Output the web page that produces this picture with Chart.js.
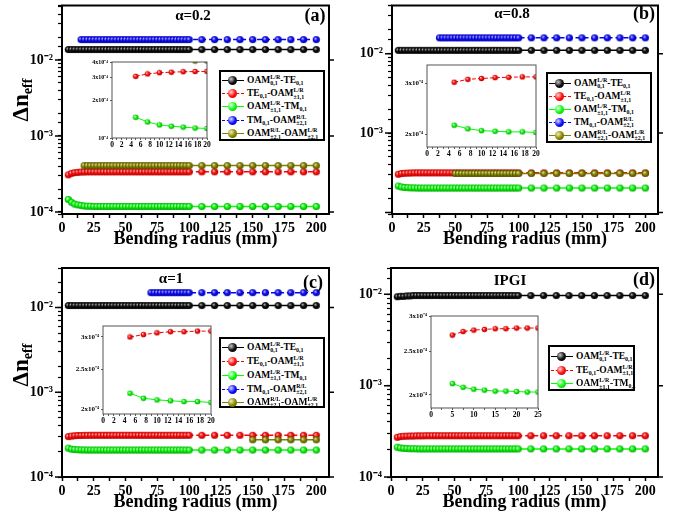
<!DOCTYPE html>
<html>
<head>
<meta charset="utf-8">
<script src="https://cdn.jsdelivr.net/npm/chart.js@4.4.0/dist/chart.umd.min.js"></script>
<style>
  body { margin: 0; background: #fff; }
  #wrap { position: relative; width: 674px; height: 518px; overflow: hidden;
          font-family: "Liberation Serif", "Times New Roman", serif; font-weight: bold; color: #000; }
  #wrap canvas { position: absolute; }
  .lbl { position: absolute; transform: translate(-50%, -50%); white-space: nowrap; }
  .ytitle { position: absolute; transform: translate(-50%, -50%) rotate(-90deg); font-size: 23px; white-space: nowrap; }
  .ytitle sub { font-size: 0.62em; vertical-align: -0.3em; }
  .legend { position: absolute; background: #fff; border: 2px solid #000; box-sizing: border-box; font-size: 9.5px; }
  .row { position: absolute; left: 0; height: 13px; display: flex; align-items: center; white-space: nowrap; }
  .sym { position: relative; width: 22px; height: 13px; margin: 0 3px 0 1px; flex: none; }
  .sym .ln { position: absolute; left: 0; right: 0; top: 6px; }
  .sym .ball { position: absolute; left: 6px; top: 2px; width: 9px; height: 9px; border-radius: 50%; }
  .sb { font-size: 6px; vertical-align: -2px; }
  .ss { display: inline-flex; flex-direction: column; font-size: 6px; line-height: 6.5px; vertical-align: middle; }
</style>
</head>
<body>
<div id="wrap"></div>
<script>
// bending radius (mm): dense 5..100, then every 10 mm
const radius = [
  5, 7.5, 10, 12.5, 15, 17.5, 20, 22.5, 25, 27.5,
  30, 32.5, 35, 37.5, 40, 42.5, 45, 47.5, 50, 52.5,
  55, 57.5, 60, 62.5, 65, 67.5, 70, 72.5, 75, 77.5,
  80, 82.5, 85, 87.5, 90, 92.5, 95, 97.5, 100,
  110, 120, 130, 140, 150, 160, 170, 180, 190, 200
];

// all series below are in units of 1e-4
const UNIT = 1e-4;

// (a) alpha = 0.2
const aBlack = [
  137, 137, 137, 137, 137, 137, 137, 137, 137, 137,
  137, 137, 137, 137, 137, 137, 137, 137, 137, 137,
  137, 137, 137, 137, 137, 137, 137, 137, 137, 137,
  137, 137, 137, 137, 137, 137, 137, 137, 137,
  137, 137, 137, 137, 137, 137, 137, 137, 137, 137
];
const aRed = [
  3.08, 3.22, 3.29, 3.32, 3.35, 3.36, 3.37, 3.37, 3.37, 3.37,
  3.37, 3.37, 3.37, 3.37, 3.37, 3.37, 3.37, 3.37, 3.37, 3.37,
  3.37, 3.37, 3.37, 3.37, 3.37, 3.37, 3.37, 3.37, 3.37, 3.37,
  3.37, 3.37, 3.37, 3.37, 3.37, 3.37, 3.37, 3.37, 3.37,
  3.37, 3.37, 3.37, 3.37, 3.37, 3.37, 3.37, 3.37, 3.37, 3.37
];
const aGreen = [
  1.46, 1.34, 1.27, 1.24, 1.22, 1.20, 1.19, 1.19, 1.18, 1.18,
  1.18, 1.18, 1.18, 1.18, 1.18, 1.18, 1.18, 1.18, 1.18, 1.18,
  1.18, 1.18, 1.18, 1.18, 1.18, 1.18, 1.18, 1.18, 1.18, 1.18,
  1.18, 1.18, 1.18, 1.18, 1.18, 1.18, 1.18, 1.18, 1.18,
  1.18, 1.18, 1.18, 1.18, 1.18, 1.18, 1.18, 1.18, 1.18, 1.18
];
const aBlue = [
  null, null, null, null, 185, 185, 185, 185, 185, 185,
  185, 185, 185, 185, 185, 185, 185, 185, 185, 185,
  185, 185, 185, 185, 185, 185, 185, 185, 185, 185,
  185, 185, 185, 185, 185, 185, 185, 185, 185,
  185, 185, 185, 185, 185, 185, 185, 185, 185, 185
];
const aOlive = [
  null, null, null, null, null, 4.07, 4.07, 4.07, 4.07, 4.07,
  4.07, 4.07, 4.07, 4.07, 4.07, 4.07, 4.07, 4.07, 4.07, 4.07,
  4.07, 4.07, 4.07, 4.07, 4.07, 4.07, 4.07, 4.07, 4.07, 4.07,
  4.07, 4.07, 4.07, 4.07, 4.07, 4.07, 4.07, 4.07, 4.07,
  4.07, 4.07, 4.07, 4.07, 4.07, 4.07, 4.07, 4.07, 4.07, 4.07
];

// (b) alpha = 0.8
const bBlack = [
  110, 110, 110, 110, 110, 110, 110, 110, 110, 110,
  110, 110, 110, 110, 110, 110, 110, 110, 110, 110,
  110, 110, 110, 110, 110, 110, 110, 110, 110, 110,
  110, 110, 110, 110, 110, 110, 110, 110, 110,
  110, 110, 110, 110, 110, 110, 110, 110, 110, 110
];
const bRed = [
  3.02, 3.09, 3.11, 3.13, 3.14, 3.15, 3.15, 3.15, 3.15, 3.15,
  3.15, 3.15, 3.15, 3.15, 3.15, 3.15, 3.15, 3.15, 3.15, 3.15,
  3.15, 3.15, 3.15, 3.15, 3.15, 3.15, 3.15, 3.15, 3.15, 3.15,
  3.15, 3.15, 3.15, 3.15, 3.15, 3.15, 3.15, 3.15, 3.15,
  3.15, 3.15, 3.15, 3.15, 3.15, 3.15, 3.15, 3.15, 3.15, 3.15
];
const bGreen = [
  2.15, 2.09, 2.06, 2.05, 2.04, 2.04, 2.03, 2.03, 2.03, 2.03,
  2.03, 2.03, 2.03, 2.03, 2.03, 2.03, 2.03, 2.03, 2.03, 2.03,
  2.03, 2.03, 2.03, 2.03, 2.03, 2.03, 2.03, 2.03, 2.03, 2.03,
  2.03, 2.03, 2.03, 2.03, 2.03, 2.03, 2.03, 2.03, 2.03,
  2.03, 2.03, 2.03, 2.03, 2.03, 2.03, 2.03, 2.03, 2.03, 2.03
];
const bBlue = [
  null, null, null, null, null, null, null, null, null, null,
  null, null, null, 158, 158, 158, 158, 158, 158, 158,
  158, 158, 158, 158, 158, 158, 158, 158, 158, 158,
  158, 158, 158, 158, 158, 158, 158, 158, 158,
  158, 158, 158, 158, 158, 158, 158, 158, 158, 158
];
const bOlive = [
  null, null, null, null, null, null, null, null, null, null,
  null, null, null, null, null, null, null, null, 3.10, 3.10,
  3.10, 3.10, 3.10, 3.10, 3.10, 3.10, 3.10, 3.10, 3.10, 3.10,
  3.10, 3.10, 3.10, 3.10, 3.10, 3.10, 3.10, 3.10, 3.10,
  3.10, 3.10, 3.10, 3.10, 3.10, 3.10, 3.10, 3.10, 3.10, 3.10
];

// (c) alpha = 1
const cBlack = [
  105.6, 105.6, 105.6, 105.6, 105.6, 105.6, 105.6, 105.6, 105.6, 105.6,
  105.6, 105.6, 105.6, 105.6, 105.6, 105.6, 105.6, 105.6, 105.6, 105.6,
  105.6, 105.6, 105.6, 105.6, 105.6, 105.6, 105.6, 105.6, 105.6, 105.6,
  105.6, 105.6, 105.6, 105.6, 105.6, 105.6, 105.6, 105.6, 105.6,
  105.6, 105.6, 105.6, 105.6, 105.6, 105.6, 105.6, 105.6, 105.6, 105.6
];
const cRed = [
  3.00, 3.04, 3.07, 3.09, 3.09, 3.10, 3.10, 3.11, 3.11, 3.11,
  3.11, 3.11, 3.11, 3.11, 3.11, 3.11, 3.11, 3.11, 3.11, 3.11,
  3.11, 3.11, 3.11, 3.11, 3.11, 3.11, 3.11, 3.11, 3.11, 3.11,
  3.11, 3.11, 3.11, 3.11, 3.11, 3.11, 3.11, 3.11, 3.11,
  3.11, 3.11, 3.11, 3.11, 3.11, 3.11, 3.11, 3.11, 3.11, 3.11
];
const cGreen = [
  2.19, 2.13, 2.11, 2.10, 2.09, 2.09, 2.08, 2.08, 2.08, 2.08,
  2.08, 2.08, 2.08, 2.08, 2.08, 2.08, 2.08, 2.08, 2.08, 2.08,
  2.08, 2.08, 2.08, 2.08, 2.08, 2.08, 2.08, 2.08, 2.08, 2.08,
  2.08, 2.08, 2.08, 2.08, 2.08, 2.08, 2.08, 2.08, 2.08,
  2.08, 2.08, 2.08, 2.08, 2.08, 2.08, 2.08, 2.08, 2.08, 2.08
];
const cBlue = [
  null, null, null, null, null, null, null, null, null, null,
  null, null, null, null, null, null, null, null, null, null,
  null, null, null, null, null, null, 150, 150, 150, 150,
  150, 150, 150, 150, 150, 150, 150, 150, 150,
  150, 150, 150, 150, 150, 150, 150, 150, 150, 150
];
const cOlive = [
  null, null, null, null, null, null, null, null, null, null,
  null, null, null, null, null, null, null, null, null, null,
  null, null, null, null, null, null, null, null, null, null,
  null, null, null, null, null, null, null, null, null,
  null, null, null, null, 2.75, 2.75, 2.75, 2.75, 2.75, 2.75
];

// (d) IPGI
const dBlack = [
  94, 95, 95, 96, 96, 97, 97, 97, 97, 97,
  97, 97, 97, 97, 97, 97, 97, 97, 97, 97,
  97, 97, 97, 97, 97, 97, 97, 97, 97, 97,
  97, 97, 97, 97, 97, 97, 97, 97, 97,
  97, 97, 97, 97, 97, 97, 97, 97, 97, 97
];
const dRed = [
  2.72, 2.77, 2.79, 2.80, 2.81, 2.81, 2.82, 2.82, 2.82, 2.83,
  2.83, 2.83, 2.83, 2.83, 2.83, 2.83, 2.83, 2.83, 2.83, 2.83,
  2.83, 2.83, 2.83, 2.83, 2.83, 2.83, 2.83, 2.83, 2.83, 2.83,
  2.83, 2.83, 2.83, 2.83, 2.83, 2.83, 2.83, 2.83, 2.83,
  2.83, 2.83, 2.83, 2.83, 2.83, 2.83, 2.83, 2.83, 2.83, 2.83
];
const dGreen = [
  2.12, 2.08, 2.06, 2.05, 2.04, 2.04, 2.035, 2.03, 2.03, 2.03,
  2.03, 2.03, 2.03, 2.03, 2.03, 2.03, 2.03, 2.03, 2.03, 2.03,
  2.03, 2.03, 2.03, 2.03, 2.03, 2.03, 2.03, 2.03, 2.03, 2.03,
  2.03, 2.03, 2.03, 2.03, 2.03, 2.03, 2.03, 2.03, 2.03,
  2.03, 2.03, 2.03, 2.03, 2.03, 2.03, 2.03, 2.03, 2.03, 2.03
];

// tick labels
const decadeVals = [1e-4, 1e-3, 1e-2];
const decadeLabels = ['10⁻⁴', '10⁻³', '10⁻²'];
const insetTicksA = [1e-4, 2e-4, 3e-4, 4e-4];
const insetLabelsA = ['10⁻⁴', '2x10⁻⁴', '3x10⁻⁴', '4x10⁻⁴'];
const insetTicksB = [2e-4, 3e-4];
const insetLabelsB = ['2x10⁻⁴', '3x10⁻⁴'];
const insetTicksCD = [2e-4, 2.5e-4, 3e-4];
const insetLabelsCD = ['2x10⁻⁴', '2.5x10⁻⁴', '3x10⁻⁴'];

// series styles: black, red, green, blue, olive
const colors = ['#000000', '#ff0000', '#00ff00', '#0000ff', '#808000'];
const shades = [
  ['#c8c8c8', '#101010', '#000000'],
  ['#ffd8d8', '#ff1010', '#b00000'],
  ['#e8ffe8', '#10ff10', '#00a000'],
  ['#d8d8ff', '#1010ff', '#0000a0'],
  ['#f0f0b8', '#8a8a00', '#4a4a00']
];
const dashed = [false, true, false, true, false];

const sb = s => `<span class="sb">${s}</span>`;
const ss = (sup, sub) => `<span class="ss"><span>${sup}</span><span>${sub}</span></span>`;
const seriesNames = [
  `OAM${ss('L/R', '0,1')}-TE${sb('0,1')}`,
  `TE${sb('0,1')}-OAM${ss('L/R', '±1,1')}`,
  `OAM${ss('L/R', '±1,1')}-TM${sb('0,1')}`,
  `TM${sb('0,1')}-OAM${ss('R/L', '±2,1')}`,
  `OAM${ss('R/L', '±2,1')}-OAM${ss('L/R', '±2,1')}`
];

const FONT = '"Liberation Serif", "Times New Roman", serif';
const wrap = document.getElementById('wrap');

function ball(i, r) {
  const s = Math.ceil(2 * r) + 1;
  const c = document.createElement('canvas');
  c.width = c.height = s;
  const g = c.getContext('2d');
  const m = s / 2;
  const gr = g.createRadialGradient(m - r * 0.35, m - r * 0.35, 0, m, m, r);
  gr.addColorStop(0, shades[i][0]);
  gr.addColorStop(0.5, shades[i][1]);
  gr.addColorStop(1, shades[i][2]);
  g.fillStyle = gr;
  g.beginPath();
  g.arc(m, m, r, 0, Math.PI * 2);
  g.fill();
  return c;
}
const bigBalls = colors.map((c, i) => ball(i, 3.6));
const smallBalls = colors.map((c, i) => ball(i, 2.8));

// frame round the plot area, plus decade ticks on both sides
const frame = {
  id: 'frame',
  beforeDraw(chart, args, o) {
    if (!o.bg) return;
    const { ctx, chartArea: a } = chart;
    ctx.save();
    ctx.fillStyle = o.bg;
    ctx.fillRect(a.left, a.top, a.right - a.left, a.bottom - a.top);
    ctx.restore();
  },
  afterDraw(chart, args, o) {
    const { ctx, chartArea: a } = chart;
    ctx.save();
    ctx.strokeStyle = o.color;
    ctx.lineWidth = o.width;
    ctx.strokeRect(a.left, a.top, a.right - a.left, a.bottom - a.top);
    if (o.decades) {
      const y = chart.scales.y;
      ctx.lineWidth = 1.5;
      o.decades.forEach(v => {
        const py = y.getPixelForValue(v);
        ctx.beginPath();
        ctx.moveTo(a.left - 7, py); ctx.lineTo(a.left, py);
        ctx.moveTo(a.right, py); ctx.lineTo(a.right + 5, py);
        ctx.stroke();
      });
    }
    ctx.restore();
  }
};

// fix the axis boxes so the plot area lands where wanted
const fitX = h => s => { s.height = h; s.paddingLeft = 0; s.paddingRight = 0; };
const fitY = w => s => { s.width = w; s.paddingTop = 0; s.paddingBottom = 0; };

function addCanvas(p) {
  const cv = document.createElement('canvas');
  cv.width = p.w; cv.height = p.h;
  cv.style.left = p.left + 'px';
  cv.style.top = p.top + 'px';
  wrap.appendChild(cv);
  return cv;
}

function near(v, list) {
  return list.findIndex(t => Math.abs(v / t - 1) < 1e-6);
}

function mainChart(p) {
  const cv = addCanvas(p);
  const datasets = p.series.map((vals, i) => ({
    data: radius.map((x, k) => ({ x, y: vals[k] == null ? null : vals[k] * UNIT })),
    borderColor: colors[i],
    borderWidth: 1.5,
    borderDash: dashed[i] ? [5, 3] : [],
    pointStyle: bigBalls[i],
    pointRadius: 3.6,
    order: 10 - i
  }));
  new Chart(cv, {
    type: 'line',
    data: { datasets },
    plugins: [frame],
    options: {
      responsive: false,
      animation: false,
      layout: { padding: { left: 0, right: p.padR, top: p.padT, bottom: 0 } },
      plugins: {
        legend: { display: false },
        tooltip: { enabled: false },
        frame: { color: '#000', width: 2, decades: decadeVals }
      },
      scales: {
        x: {
          type: 'linear', min: 0, max: 210,
          afterFit: fitX(41),
          border: { display: false },
          grid: { drawOnChartArea: false, tickLength: 4, tickColor: '#000', tickWidth: 1.5 },
          ticks: {
            stepSize: 12.5, includeBounds: false, autoSkip: false, maxRotation: 0, padding: 2, color: '#000',
            font: { family: FONT, size: 14, weight: 'bold' },
            callback: v => (v % 25 === 0 ? String(v) : '')
          },
          title: {
            display: true, text: 'Bending radius (mm)', color: '#000',
            font: { family: FONT, size: 18, weight: 'bold' },
            padding: { top: 0, bottom: 5 }
          }
        },
        y: {
          type: 'logarithmic', min: p.ymin, max: p.ymax,
          afterFit: fitY(p.yW),
          border: { display: false },
          grid: { drawOnChartArea: false, tickLength: 4, tickColor: '#000', tickWidth: 1.2 },
          ticks: {
            autoSkip: false, padding: 5, color: '#000',
            font: { family: FONT, size: 14, weight: 'bold' },
            callback: v => { const k = near(v, decadeVals); return k < 0 ? '' : decadeLabels[k]; }
          }
        }
      }
    }
  });
}

function insetChart(p) {
  const cv = addCanvas(p);
  const datasets = p.which.map(i => ({
    data: radius.slice(0, p.n).map((x, k) => {
      const v = p.series[i][k];
      return { x, y: v == null ? null : v * UNIT };
    }),
    borderColor: colors[i],
    borderWidth: 1,
    borderDash: dashed[i] ? [4, 2] : [],
    pointStyle: smallBalls[i],
    pointRadius: 2.8,
    clip: 0,
    order: 10 - i
  }));
  new Chart(cv, {
    type: 'line',
    data: { datasets },
    plugins: [frame],
    options: {
      responsive: false,
      animation: false,
      layout: { padding: { left: 0, right: p.padR, top: p.padT, bottom: 0 } },
      plugins: {
        legend: { display: false },
        tooltip: { enabled: false },
        frame: { color: '#555', width: 1, bg: '#fff' }
      },
      scales: {
        x: {
          type: 'linear', min: 0, max: p.xmax,
          afterFit: fitX(p.xH),
          border: { display: false },
          grid: { drawOnChartArea: false, tickLength: 2, tickColor: '#333', tickWidth: 0.8 },
          ticks: {
            stepSize: p.xstep, autoSkip: false, maxRotation: 0, padding: 1, color: '#000',
            font: { family: FONT, size: 7.5, weight: 'bold' },
            callback: v => (v % p.xlab === 0 ? String(v) : '')
          }
        },
        y: {
          type: 'logarithmic', min: p.ymin, max: p.ymax,
          afterFit: fitY(p.yW),
          afterBuildTicks: s => { s.ticks = p.yTicks.map(v => ({ value: v })); },
          border: { display: false },
          grid: { drawOnChartArea: false, tickLength: 2, tickColor: '#333', tickWidth: 0.8 },
          ticks: {
            autoSkip: false, padding: 2, color: '#000',
            font: { family: FONT, size: p.yFont, weight: 'bold' },
            callback: v => { const k = near(v, p.yTicks); return k < 0 ? '' : p.yLabels[k]; }
          }
        }
      }
    }
  });
}

function legend(l) {
  const d = document.createElement('div');
  d.className = 'legend';
  Object.assign(d.style, { left: l.left + 'px', top: l.top + 'px', width: l.w + 'px', height: l.h + 'px' });
  d.innerHTML = l.rows.map((y, i) => {
    const s = shades[i];
    return `<div class="row" style="top:${y - 6.5}px">` +
      `<span class="sym"><span class="ln" style="border-top:1.5px ${dashed[i] ? 'dashed' : 'solid'} ${colors[i]}"></span>` +
      `<span class="ball" style="background:radial-gradient(circle at 35% 35%, ${s[0]} 0, ${s[1]} 50%, ${s[2]} 100%)"></span></span>` +
      `<span>${seriesNames[i]}</span></div>`;
  }).join('');
  wrap.appendChild(d);
}

function label(text, x, y, size) {
  const d = document.createElement('div');
  d.className = 'lbl';
  Object.assign(d.style, { left: x + 'px', top: y + 'px', fontSize: size + 'px' });
  d.textContent = text;
  wrap.appendChild(d);
}

function yTitle(x, y) {
  const d = document.createElement('div');
  d.className = 'ytitle';
  Object.assign(d.style, { left: x + 'px', top: y + 'px' });
  d.innerHTML = 'Δn<sub>eff</sub>';
  wrap.appendChild(d);
}

const A = [aBlack, aRed, aGreen, aBlue, aOlive];
const B = [bBlack, bRed, bGreen, bBlue, bOlive];
const C = [cBlack, cRed, cGreen, cBlue, cOlive];
const D = [dBlack, dRed, dGreen];

mainChart({ left: 0, top: 0, w: 337, h: 255, yW: 62, padR: 8, padT: 2, ymin: 9.4e-5, ymax: 0.052, series: A });
mainChart({ left: 337, top: 0, w: 337, h: 255, yW: 55, padR: 16, padT: 2, ymin: 9.55e-5, ymax: 0.0404, series: B });
mainChart({ left: 0, top: 255, w: 337, h: 263, yW: 62, padR: 8, padT: 13, ymin: 1e-4, ymax: 0.0293, series: C });
mainChart({ left: 337, top: 255, w: 337, h: 263, yW: 54, padR: 16, padT: 13, ymin: 1e-4, ymax: 0.0194, series: D });

insetChart({ left: 80, top: 56, w: 132, h: 98, yW: 32, padR: 2, padT: 6, xH: 16, xmax: 20, xstep: 1, xlab: 2,
  ymin: 1e-4, ymax: 4e-4, yTicks: insetTicksA, yLabels: insetLabelsA, yFont: 6, n: 7, series: A, which: [1, 2, 4] });
insetChart({ left: 395, top: 58, w: 146, h: 104, yW: 32, padR: 2, padT: 7, xH: 15, xmax: 20, xstep: 1, xlab: 2,
  ymin: 1.81e-4, ymax: 3.46e-4, yTicks: insetTicksB, yLabels: insetLabelsB, yFont: 7, n: 7, series: B, which: [1, 2] });
insetChart({ left: 65, top: 318, w: 151, h: 112, yW: 38, padR: 3, padT: 8, xH: 16, xmax: 20, xstep: 1, xlab: 2,
  ymin: 1.95e-4, ymax: 3.19e-4, yTicks: insetTicksCD, yLabels: insetLabelsCD, yFont: 7, n: 7, series: C, which: [1, 2] });
insetChart({ left: 393, top: 308, w: 150, h: 116, yW: 38, padR: 3, padT: 8, xH: 16, xmax: 25, xstep: 2.5, xlab: 5,
  ymin: 1.87e-4, ymax: 3e-4, yTicks: insetTicksCD, yLabels: insetLabelsCD, yFont: 7, n: 9, series: D, which: [1, 2] });

legend({ left: 219, top: 70, w: 106, h: 71, rows: [8, 21.5, 34.5, 48, 61.5] });
legend({ left: 546, top: 72, w: 106, h: 71, rows: [9, 22.5, 35.5, 48, 61] });
legend({ left: 219, top: 337, w: 106, h: 71, rows: [8, 22, 36, 50, 63] });
legend({ left: 548, top: 345, w: 87, h: 46, rows: [9, 23, 36.5] });

label('α=0.2', 193, 15, 15);
label('(a)', 315, 15, 18);
label('α=0.8', 512, 13, 15);
label('(b)', 644, 13, 18);
label('α=1', 171, 278, 15);
label('(c)', 313, 282, 18);
label('IPGI', 510, 280, 15);
label('(d)', 644, 279, 18);

yTitle(22, 100);
yTitle(22, 365);
</script>
</body>
</html>
